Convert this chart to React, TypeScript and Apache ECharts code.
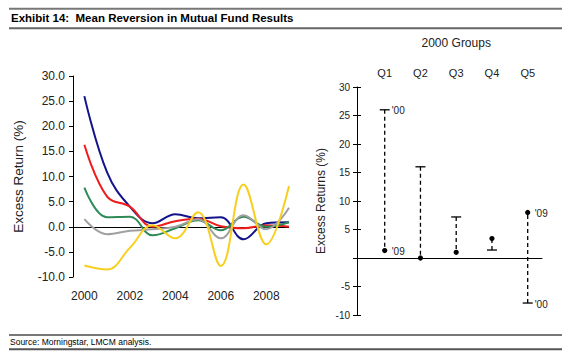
import React, { useEffect, useRef } from "react";
import * as echarts from "echarts";

const years = [2000, 2001, 2002, 2003, 2004, 2005, 2006, 2007, 2008, 2009];
const yearLabels = [2000, 2002, 2004, 2006, 2008];
const q1 = [26.0, 10.8, 4.0, 0.7, 2.5, 1.7, 1.9, -2.5, 0.7, 0.9];
const q2 = [16.3, 6.0, 4.0, 0.0, 1.1, 1.6, 0.1, -0.3, 0.3, 0.0];
const q3 = [7.8, 1.9, 2.0, -1.7, -0.3, 1.3, -0.7, 2.0, 0.0, 0.9];
const q4 = [1.5, -1.5, -0.8, -0.5, 0.0, 1.5, -2.3, 2.3, -0.5, 3.8];
const q5 = [-7.7, -8.5, -4.2, 0.3, -2.3, 2.9, -7.8, 8.4, -3.5, 8.1];
const seriesColors = ["#14148a", "#ee1c1c", "#2e8b57", "#a0a0a0", "#f7cf1f"];
const seriesNames = ["Q1", "Q2", "Q3", "Q4", "Q5"];

const groups = ["Q1", "Q2", "Q3", "Q4", "Q5"];
const ret2000 = [26.0, 16.0, 7.2, 1.4, -7.9];
const ret2009 = [1.3, 0.0, 1.0, 3.4, 8.0];
const label2000 = ["'00", "", "", "", "'00"];
const label2009 = ["'09", "", "", "", "'09"];

const FONT = "'Liberation Sans', Arial, sans-serif";

export default function App() {
  const ref = useRef<HTMLDivElement>(null);
  useEffect(() => {
    if (!ref.current) return;
    const chart = echarts.init(ref.current, null, { renderer: "svg" });
    const lineData = [q1, q2, q3, q4, q5];
    const lineSeries: any[] = lineData.map((arr, k) => ({
      type: "line",
      name: seriesNames[k],
      xAxisIndex: 0,
      yAxisIndex: 0,
      data: years.map((y, i) => [y, arr[i]]),
      smooth: 0.4,
      showSymbol: false,
      symbol: "none",
      lineStyle: { width: 2, color: seriesColors[k] },
      itemStyle: { color: seriesColors[k] },
      z: 3,
      ...(k === 0
        ? {
            markLine: {
              silent: true,
              symbol: ["none", "none"],
              label: { show: false },
              lineStyle: { color: "#000", width: 1, type: "solid" },
              data: [{ yAxis: 0 }],
              z: 1,
            },
          }
        : {}),
    }));

    const option: any = {
      animation: false,
      backgroundColor: "#fff",
      textStyle: { fontFamily: FONT },
      grid: [
        { left: 73, top: 76, width: 216, height: 201 },
        { left: 357, top: 87, width: 185, height: 228 },
        { left: 366.8, top: 87, width: 178.8, height: 228 },
      ],
      xAxis: [
        {
          gridIndex: 0,
          type: "value",
          min: 1999.5,
          max: 2009,
          axisLine: { show: false, onZero: false },
          axisTick: { show: false },
          splitLine: { show: false },
          axisLabel: {
            customValues: yearLabels,
            fontSize: 12,
            color: "#222",
            margin: 13,
            formatter: (v: number) => String(v),
          },
        },
        {
          gridIndex: 1,
          type: "value",
          min: 0.225,
          max: 5.4,
          axisLine: { show: true, onZero: true, onZeroAxisIndex: 1, lineStyle: { color: "#000", width: 1 } },
          axisTick: { show: false },
          axisLabel: { show: false },
          splitLine: { show: false },
        },
        {
          gridIndex: 2,
          type: "category",
          data: groups,
          position: "top",
          axisLine: { show: false },
          axisTick: { show: false },
          splitLine: { show: false },
          axisLabel: { fontSize: 11, color: "#222", margin: 9 },
          name: "2000 Groups",
          nameLocation: "middle",
          nameGap: 38,
          nameTextStyle: { fontSize: 12, color: "#222" },
        },
      ],
      yAxis: [
        {
          gridIndex: 0,
          type: "value",
          position: "left",
          min: -10,
          max: 30,
          interval: 5,
          axisLine: { show: true, lineStyle: { color: "#000", width: 1 } },
          axisTick: { show: true, length: 4, lineStyle: { color: "#000" } },
          splitLine: { show: false },
          axisLabel: {
            fontSize: 12,
            color: "#222",
            margin: 8,
            formatter: (v: number) => v.toFixed(1),
          },
          name: "Excess Return (%)",
          nameLocation: "middle",
          nameGap: 48,
          nameTextStyle: { fontSize: 13.5, color: "#222" },
        },
        {
          gridIndex: 1,
          type: "value",
          position: "left",
          offset: 0,
          min: -10,
          max: 30,
          interval: 5,
          axisLine: { show: true, onZero: false, lineStyle: { color: "#000", width: 1 } },
          axisTick: { show: true, length: 4, lineStyle: { color: "#000" } },
          splitLine: { show: false },
          axisLabel: {
            fontSize: 10,
            color: "#222",
            margin: 7,
            formatter: (v: number) => (v === 0 ? "" : String(v)),
          },
          name: "Excess Returns (%)",
          nameLocation: "middle",
          nameGap: 30,
          nameTextStyle: { fontSize: 12, color: "#222" },
        },
        {
          gridIndex: 1,
          type: "value",
          position: "left",
          offset: 0,
          min: -10,
          max: 30,
          interval: 5,
          axisLine: { show: false, onZero: false },
          axisTick: { show: true, inside: true, length: 4, lineStyle: { color: "#000" } },
          axisLabel: { show: false },
          splitLine: { show: false },
        },
        {
          gridIndex: 2,
          type: "value",
          show: false,
          min: -10,
          max: 30,
        },
      ],
      series: [
        ...lineSeries,
        {
          type: "custom",
          xAxisIndex: 1,
          yAxisIndex: 1,
          data: groups.map((g, i) => [i + 1, ret2000[i], ret2009[i]]),
          renderItem: (params: any, api: any) => {
            const x = api.value(0);
            const a = api.value(1);
            const b = api.value(2);
            const pa = api.coord([x, a]);
            const pb = api.coord([x, b]);
            const i = params.dataIndex;
            const children: any[] = [
              {
                type: "line",
                shape: { x1: pa[0], y1: pa[1], x2: pb[0], y2: pb[1] },
                style: { stroke: "#000", lineWidth: 1.3, lineDash: [4, 3] },
              },
              {
                type: "line",
                shape: { x1: pa[0] - 5, y1: pa[1], x2: pa[0] + 5, y2: pa[1] },
                style: { stroke: "#000", lineWidth: 1.3 },
              },
              {
                type: "circle",
                shape: { cx: pb[0], cy: pb[1], r: 2.6 },
                style: { fill: "#000" },
              },
            ];
            if (label2000[i]) {
              children.push({
                type: "text",
                x: pa[0] + 7,
                y: pa[1] + 1,
                style: {
                  text: label2000[i],
                  fill: "#222",
                  fontSize: 10,
                  fontFamily: FONT,
                  align: "left",
                  verticalAlign: "middle",
                },
              });
            }
            if (label2009[i]) {
              children.push({
                type: "text",
                x: pb[0] + 7,
                y: pb[1] + 1,
                style: {
                  text: label2009[i],
                  fill: "#222",
                  fontSize: 10,
                  fontFamily: FONT,
                  align: "left",
                  verticalAlign: "middle",
                },
              });
            }
            return { type: "group", children };
          },
          z: 4,
        },
      ],
      graphic: [
        { type: "line", shape: { x1: 9, y1: 8.7, x2: 562, y2: 8.7 }, style: { stroke: "#777", lineWidth: 2 } },
        { type: "line", shape: { x1: 9, y1: 28.3, x2: 562, y2: 28.3 }, style: { stroke: "#666", lineWidth: 2 } },
        { type: "line", shape: { x1: 9, y1: 335, x2: 562, y2: 335 }, style: { stroke: "#777", lineWidth: 2 } },
        { type: "line", shape: { x1: 9, y1: 349.3, x2: 562, y2: 349.3 }, style: { stroke: "#555", lineWidth: 2 } },
        {
          type: "text",
          x: 11,
          y: 18,
          style: {
            text: "Exhibit 14:  Mean Reversion in Mutual Fund Results",
            fill: "#000",
            fontSize: 11.5,
            fontWeight: "bold",
            fontFamily: FONT,
            align: "left",
            verticalAlign: "middle",
          },
        },
        {
          type: "text",
          x: 10,
          y: 342,
          style: {
            text: "Source: Morningstar, LMCM analysis.",
            fill: "#000",
            fontSize: 8.5,
            fontFamily: FONT,
            align: "left",
            verticalAlign: "middle",
          },
        },
      ],
    };
    chart.setOption(option);
    return () => chart.dispose();
  }, []);
  return (
    <div
      ref={ref}
      style={{ position: "fixed", left: 0, top: 0, width: 571, height: 361, background: "#fff" }}
    />
  );
}
